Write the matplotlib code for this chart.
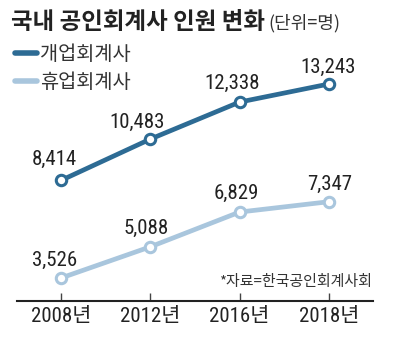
import matplotlib
matplotlib.use("Agg")
import matplotlib.pyplot as plt
from matplotlib import font_manager

# data
years = ["2008년", "2012년", "2016년", "2018년"]
open_cpa = [8414, 10483, 12338, 13243]
closed_cpa = [3526, 5088, 6829, 7347]
series_names = ["개업회계사", "휴업회계사"]

title = "국내 공인회계사 인원 변화"
unit = "(단위=명)"
source = "*자료=한국공인회계사회"

DARK = "#2d6b94"
LIGHT = "#a9c6dd"
TEXT = "#222222"
KR = ["Noto Sans CJK KR", "DejaVu Sans"]

W, H = 400, 342


def first_font(candidates):
    for name in candidates:
        try:
            font_manager.findfont(font_manager.FontProperties(family=name),
                                  fallback_to_default=False)
            return name
        except ValueError:
            continue
    return "DejaVu Sans"


NARROW = first_font(["Roboto Condensed", "Archivo Narrow", "PT Sans Narrow",
                     "Sofia Sans Condensed", "Liberation Sans Narrow", "Roboto"])
NUM = [NARROW, "Noto Sans CJK KR", "DejaVu Sans"]


def px(x, y):
    return x / W, 1 - y / H


def main():
    fig = plt.figure(figsize=(W / 100, H / 100), dpi=100)
    ax = fig.add_axes([17 / W, 41 / H, 356 / W, (301 - 60) / H])

    xs = range(len(years))
    for vals, color in [(open_cpa, DARK), (closed_cpa, LIGHT)]:
        ax.plot(xs, vals, color=color, lw=3.4, solid_capstyle="round",
                marker="o", ms=7.5, mfc="white", mec=color, mew=2.2,
                clip_on=False, zorder=3)

    # value labels (offsets in pixels)
    open_off = [(-7, 21), (-13, 17), (-7, 19), (-1, 17)]
    closed_off = [(-6, 18), (-4, 18), (-3, 19), (1, 17)]
    for vals, offs in [(open_cpa, open_off), (closed_cpa, closed_off)]:
        for i, (v, (dx, dy)) in enumerate(zip(vals, offs)):
            ax.annotate(f"{v:,}", (i, v), xytext=(dx, dy),
                        textcoords="offset pixels", ha="center", va="center",
                        fontsize=15, family=NUM, color=TEXT)

    ax.set_xlim(-0.493, 3.494)
    ax.set_ylim(2374, 14445)
    ax.set_xticks(list(xs))
    ax.set_xticklabels(years, family=NUM, fontsize=15, color=TEXT)
    ax.set_yticks([])
    for s in ["left", "right", "top"]:
        ax.spines[s].set_visible(False)
    ax.spines["bottom"].set_linewidth(1.5)
    ax.spines["bottom"].set_color("#222222")
    ax.tick_params(axis="x", direction="in", length=6, width=1,
                   color="#444444", pad=4.5)

    # title and unit
    fig.text(*px(11, 22), title, family=KR, fontsize=16.9, fontweight="bold",
             color=TEXT, va="center", ha="left")
    fig.text(*px(268, 23), unit, family=KR, fontsize=13, fontweight="light",
             color="#333333", va="center", ha="left")

    # legend
    for (y, name, color) in [(53, series_names[0], DARK),
                             (81, series_names[1], LIGHT)]:
        fig.add_artist(plt.Line2D([15 / W, 37 / W], [1 - y / H, 1 - y / H],
                                  color=color, lw=4, solid_capstyle="round"))
        fig.text(*px(40, y + 1), name, family=KR, fontsize=14.2,
                 fontweight="light", color="#333333", va="center", ha="left")

    # source
    fig.text(*px(372, 282), source, family=KR, fontsize=10.8,
             fontweight="light", color="#333333", va="center", ha="right")

    fig.savefig("out.png", dpi=100)


if __name__ == "__main__":
    main()
